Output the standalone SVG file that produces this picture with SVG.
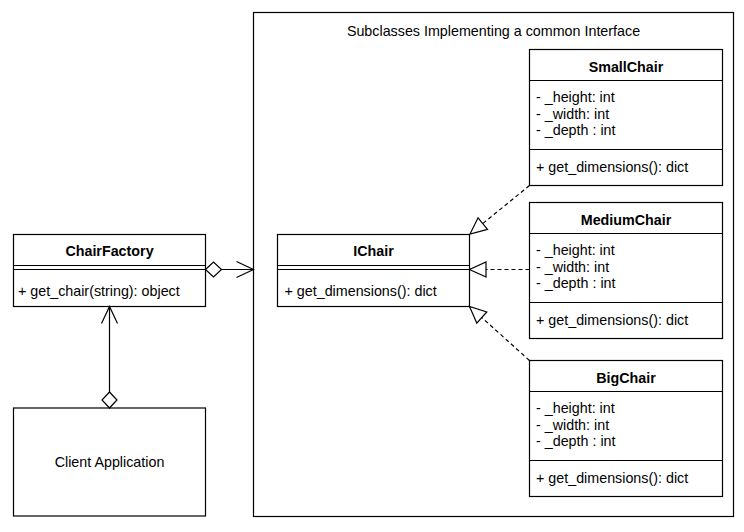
<svg xmlns="http://www.w3.org/2000/svg" width="744" height="532" viewBox="0 0 744 532">
<style>
.box{fill:#fff;stroke:#000;stroke-width:1.2}
.ln{fill:none;stroke:#000;stroke-width:1.2}
.t{font-family:"Liberation Sans",Arial,Helvetica,sans-serif;font-size:14.3px;fill:#000}
.b{font-weight:bold;text-anchor:middle}
.c{text-anchor:middle}
.conn{fill:none;stroke:#000;stroke-width:1.2}
.dash{stroke-dasharray:4 3}
</style>
<defs>
<marker id="tri" markerUnits="userSpaceOnUse" markerWidth="20" markerHeight="18" refX="17" refY="8" orient="auto" overflow="visible">
<path d="M0.5,0.5 L17,8 L0.5,15.5 Z" fill="#fff" stroke="#000" stroke-width="1.2" stroke-dasharray="none"/>
</marker>
<marker id="open" markerUnits="userSpaceOnUse" markerWidth="20" markerHeight="18" refX="17" refY="8" orient="auto" overflow="visible">
<path d="M0,0 L17,8 L0,16" fill="none" stroke="#000" stroke-width="1.2"/>
</marker>
<marker id="dia" markerUnits="userSpaceOnUse" markerWidth="18" markerHeight="18" refX="0" refY="7.5" orient="auto" overflow="visible">
<path d="M0,7.5 L8,0 L16,7.5 L8,15 Z" fill="#fff" stroke="#000" stroke-width="1.2"/>
</marker>
</defs>
<rect width="744" height="532" fill="#fff"/>

<g id="container">
<rect class="box" x="253.5" y="12.5" width="480" height="504"/>
<text class="t c" x="493.5" y="36">Subclasses Implementing a common Interface</text>
</g>

<g id="ChairFactory">
<rect class="box" x="13.5" y="234.5" width="192" height="72"/>
<line class="ln" x1="13.5" y1="265.5" x2="205.5" y2="265.5"/>
<line class="ln" x1="13.5" y1="269.5" x2="205.5" y2="269.5"/>
<text class="t b" x="109.5" y="256">ChairFactory</text>
<text class="t" x="18" y="296">+ get_chair(string): object</text>
</g>

<g id="ClientApplication">
<rect class="box" x="13.5" y="408" width="192" height="108"/>
<text class="t c" x="109.5" y="466.5">Client Application</text>
</g>

<g id="IChair">
<rect class="box" x="277.5" y="234.5" width="192" height="72"/>
<line class="ln" x1="277.5" y1="265.5" x2="469.5" y2="265.5"/>
<line class="ln" x1="277.5" y1="269.5" x2="469.5" y2="269.5"/>
<text class="t b" x="373.5" y="256">IChair</text>
<text class="t" x="284.5" y="296">+ get_dimensions(): dict</text>
</g>

<g id="SmallChair">
<rect class="box" x="529.5" y="49.5" width="193" height="136"/>
<line class="ln" x1="529.5" y1="80.5" x2="722.5" y2="80.5"/>
<line class="ln" x1="529.5" y1="149.5" x2="722.5" y2="149.5"/>
<text class="t b" x="626" y="71.5">SmallChair</text>
<text class="t" x="536" y="102">- _height: int</text>
<text class="t" x="536" y="118.5">- _width: int</text>
<text class="t" x="536" y="135">- _depth : int</text>
<text class="t" x="536" y="171.5">+ get_dimensions(): dict</text>
</g>

<g id="MediumChair">
<rect class="box" x="529.5" y="202.5" width="193" height="136"/>
<line class="ln" x1="529.5" y1="233.5" x2="722.5" y2="233.5"/>
<line class="ln" x1="529.5" y1="302.5" x2="722.5" y2="302.5"/>
<text class="t b" x="626" y="224.5">MediumChair</text>
<text class="t" x="536" y="255">- _height: int</text>
<text class="t" x="536" y="271.5">- _width: int</text>
<text class="t" x="536" y="288">- _depth : int</text>
<text class="t" x="536" y="324.5">+ get_dimensions(): dict</text>
</g>

<g id="BigChair">
<rect class="box" x="529.5" y="360.5" width="193" height="136"/>
<line class="ln" x1="529.5" y1="391.5" x2="722.5" y2="391.5"/>
<line class="ln" x1="529.5" y1="460.5" x2="722.5" y2="460.5"/>
<text class="t b" x="626" y="382.5">BigChair</text>
<text class="t" x="536" y="413">- _height: int</text>
<text class="t" x="536" y="429.5">- _width: int</text>
<text class="t" x="536" y="446">- _depth : int</text>
<text class="t" x="536" y="482.5">+ get_dimensions(): dict</text>
</g>

<g id="connectors">
<path class="conn" d="M205.5,269.5 H253.5" marker-start="url(#dia)" marker-end="url(#open)"/>
<path class="conn" d="M109.5,408 V306.5" marker-start="url(#dia)" marker-end="url(#open)"/>
<path class="conn dash" d="M529.5,185.5 L470,234" marker-end="url(#tri)"/>
<path class="conn dash" d="M529.5,269.5 H469.5" marker-end="url(#tri)"/>
<path class="conn dash" d="M529.5,360.5 L469.5,306.5" marker-end="url(#tri)"/>
</g>
</svg>
